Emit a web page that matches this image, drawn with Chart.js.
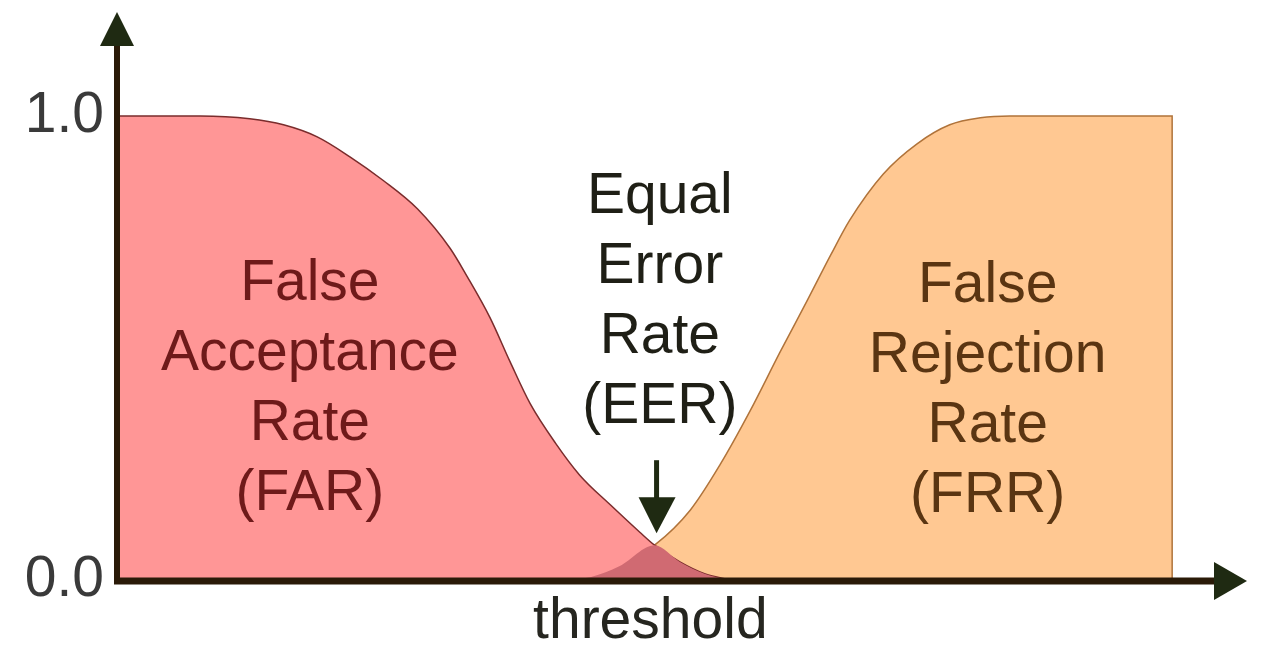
<!DOCTYPE html>
<html>
<head>
<meta charset="utf-8">
<script src="https://cdn.jsdelivr.net/npm/chart.js@4.4.1/dist/chart.umd.min.js"></script>
<style>
  html, body { margin: 0; padding: 0; background: #fff; }
  #wrap { width: 1261px; height: 645px; }
</style>
</head>
<body>
<div id="wrap"><canvas id="eerChart"></canvas></div>
<script>
// --- data (threshold units 0..100, rate 0..1) ---
const farX = [0, 7.8, 12.5, 15.7, 18.9, 22.0, 25.1, 28.4, 31.5, 33.1, 35.3, 37.2, 39.1, 41.5, 43.8, 46.7, 49.5, 50.9, 53.3, 55.7, 58.1];
const farY = [1.0, 1.0, 0.994, 0.981, 0.955, 0.912, 0.862, 0.800, 0.715, 0.655, 0.565, 0.470, 0.380, 0.295, 0.226, 0.162, 0.103, 0.075, 0.039, 0.013, 0];

const frrX = [41.9, 44.8, 47.6, 50.9, 54.3, 57.1, 60.0, 62.8, 65.4, 67.6, 69.4, 72.6, 75.8, 78.9, 81.8, 84.6, 100, 100.001];
const frrY = [0, 0.006, 0.030, 0.075, 0.151, 0.248, 0.366, 0.491, 0.603, 0.700, 0.775, 0.875, 0.940, 0.981, 0.996, 1.0, 1.0, 0];

// region where both curves overlap (under both)
const overlapX = [41.9, 44.8, 47.6, 50.9, 53.3, 55.7, 58.1];
const overlapY = [0, 0.006, 0.030, 0.075, 0.039, 0.013, 0];

const yTicks = [0, 1];
const xTitle = 'threshold';
const eerPoint = { x: 50.9, y: 0.075 };

const FONT = '"Liberation Sans", Arial, sans-serif';

// text blocks: centre x in threshold units, first baseline in rate units
const notes = [
    { lines: ['False', 'Acceptance', 'Rate', '(FAR)'], x: 18.2, y: 0.603, color: '#6e1a1a' },
    { lines: ['Equal', 'Error', 'Rate', '(EER)'], x: 51.4, y: 0.791, color: '#1f1f16' },
    { lines: ['False', 'Rejection', 'Rate', '(FRR)'], x: 82.5, y: 0.599, color: '#5a3512' }
];

function toPoints(xs, ys) {
    return xs.map((x, i) => ({ x: x, y: ys[i] }));
}

// axes with arrow heads, EER arrow and the text blocks
const overlayPlugin = {
    id: 'overlay',
    afterDatasetsDraw(chart) {
        const ctx = chart.ctx;
        const xs = chart.scales.x;
        const ys = chart.scales.y;
        const x0 = xs.getPixelForValue(0);
        const y0 = ys.getPixelForValue(0);
        const area = chart.chartArea;

        ctx.save();
        // y axis
        ctx.strokeStyle = '#2a1a08';
        ctx.lineWidth = 6;
        ctx.beginPath();
        ctx.moveTo(x0 - 1, y0 + 3);
        ctx.lineTo(x0 - 1, area.top + 30);
        ctx.stroke();
        // x axis
        ctx.lineWidth = 7;
        ctx.beginPath();
        ctx.moveTo(x0 - 4, y0 + 1);
        ctx.lineTo(area.right - 25, y0 + 1);
        ctx.stroke();

        ctx.fillStyle = '#1f2a12';
        // y arrow head
        ctx.beginPath();
        ctx.moveTo(x0 - 1, area.top);
        ctx.lineTo(x0 - 18, area.top + 34);
        ctx.lineTo(x0 + 16, area.top + 34);
        ctx.closePath();
        ctx.fill();
        // x arrow head
        ctx.beginPath();
        ctx.moveTo(area.right, y0 + 1);
        ctx.lineTo(area.right - 33, y0 - 18);
        ctx.lineTo(area.right - 33, y0 + 20);
        ctx.closePath();
        ctx.fill();

        // EER arrow
        const ex = xs.getPixelForValue(eerPoint.x) + 2;
        const ey = ys.getPixelForValue(eerPoint.y);
        ctx.strokeStyle = '#1f2a12';
        ctx.lineWidth = 5;
        ctx.beginPath();
        ctx.moveTo(ex, ey - 85);
        ctx.lineTo(ex, ey - 40);
        ctx.stroke();
        ctx.beginPath();
        ctx.moveTo(ex, ey - 12);
        ctx.lineTo(ex - 18, ey - 48);
        ctx.lineTo(ex + 19, ey - 48);
        ctx.closePath();
        ctx.fill();

        // text blocks
        ctx.font = '57px ' + FONT;
        ctx.textAlign = 'center';
        ctx.textBaseline = 'alphabetic';
        notes.forEach(n => {
            const cx = xs.getPixelForValue(n.x);
            const by = ys.getPixelForValue(n.y);
            ctx.fillStyle = n.color;
            n.lines.forEach((t, i) => ctx.fillText(t, cx, by + i * 70));
        });

        // x axis title, under the EER point
        ctx.fillStyle = '#262620';
        ctx.fillText(xTitle, xs.getPixelForValue(50.5), y0 + 58);
        ctx.restore();
    }
};

const ctx = document.getElementById('eerChart').getContext('2d');
const eerChart = new Chart(ctx, {
    type: 'line',
    data: {
        datasets: [{
            label: 'overlap',
            data: toPoints(overlapX, overlapY),
            fill: 'origin',
            backgroundColor: '#d06a72',
            borderWidth: 0,
            pointRadius: 0,
            cubicInterpolationMode: 'monotone',
            order: 0
        }, {
            label: 'FAR',
            data: toPoints(farX, farY),
            fill: 'origin',
            backgroundColor: '#ff9696',
            borderColor: '#7a2c2c',
            borderWidth: 1.5,
            pointRadius: 0,
            cubicInterpolationMode: 'monotone',
            order: 1
        }, {
            label: 'FRR',
            data: toPoints(frrX, frrY),
            fill: 'origin',
            backgroundColor: '#ffc892',
            borderColor: '#b0733a',
            borderWidth: 1.5,
            pointRadius: 0,
            cubicInterpolationMode: 'monotone',
            order: 2
        }]
    },
    options: {
        responsive: true,
        maintainAspectRatio: false,
        animation: false,
        layout: { padding: { top: 12, right: 14, left: 0, bottom: 0 } },
        plugins: {
            legend: { display: false },
            tooltip: { enabled: false }
        },
        scales: {
            x: {
                type: 'linear',
                min: 0,
                max: 107.1,
                grid: { display: false, drawTicks: false },
                border: { display: false },
                ticks: { display: false },
                afterFit: function(scale) {
                    scale.height = 65;
                    scale.paddingLeft = 0;
                    scale.paddingRight = 0;
                }
            },
            y: {
                min: 0,
                max: 1.2241,
                grid: { display: false, drawTicks: false },
                border: { display: false },
                afterBuildTicks: function(scale) {
                    scale.ticks = yTicks.map(v => ({ value: v }));
                },
                ticks: {
                    color: '#3a3a3a',
                    padding: 14,
                    font: { family: FONT, size: 57 },
                    callback: function(value) { return value.toFixed(1); }
                },
                afterFit: function(scale) {
                    scale.width = 118;
                    scale.paddingTop = 0;
                    scale.paddingBottom = 0;
                }
            }
        }
    },
    plugins: [overlayPlugin]
});
</script>
</body>
</html>
